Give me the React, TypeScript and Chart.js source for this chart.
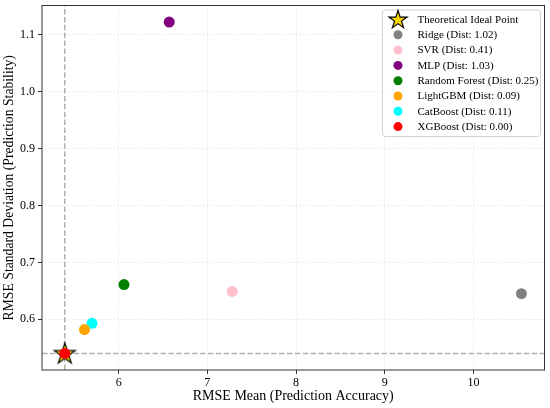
import React, { useEffect, useRef } from "react";
import { Chart, registerables } from "chart.js";

Chart.register(...registerables);

// ---- data ----
const models = ["Ridge", "SVR", "MLP", "Random Forest", "LightGBM", "CatBoost", "XGBoost"];
const rmseMean = [10.54, 7.28, 6.57, 6.06, 5.615, 5.70, 5.393];
const rmseStd = [0.645, 0.649, 1.122, 0.661, 0.582, 0.593, 0.540];
const distances = ["1.02", "0.41", "1.03", "0.25", "0.09", "0.11", "0.00"];
const modelColors = ["#808080", "#FFC0CB", "#800080", "#008000", "#FFA500", "#00FFFF", "#FF0000"];
const idealX = [5.393];
const idealY = [0.540];
const idealLabel = "Theoretical Ideal Point";
const xTicks = [6, 7, 8, 9, 10];
const yTicks = [0.6, 0.7, 0.8, 0.9, 1.0, 1.1];
const xRange = [5.136, 10.8];
const yRange = [0.511, 1.151];
const xTitle = "RMSE Mean (Prediction Accuracy)";
const yTitle = "RMSE Standard Deviation (Prediction Stability)";

const FONT = "'Liberation Serif', 'Times New Roman', serif";

function starPath(ctx: CanvasRenderingContext2D, cx: number, cy: number, R: number) {
  const r = R * 0.381966;
  ctx.beginPath();
  for (let i = 0; i < 10; i++) {
    const rad = i % 2 === 0 ? R : r;
    const a = -Math.PI / 2 + (i * Math.PI) / 5;
    const px = cx + rad * Math.cos(a);
    const py = cy + rad * Math.sin(a);
    if (i === 0) ctx.moveTo(px, py);
    else ctx.lineTo(px, py);
  }
  ctx.closePath();
}

function makeStar(R: number): HTMLCanvasElement {
  const size = Math.ceil(R * 2 + 4);
  const c = document.createElement("canvas");
  c.width = size;
  c.height = size;
  const ctx = c.getContext("2d")!;
  starPath(ctx, size / 2, size / 2 + R * 0.05, R);
  ctx.fillStyle = "#FFD700";
  ctx.fill();
  ctx.lineWidth = 1.2;
  ctx.strokeStyle = "#000";
  ctx.lineJoin = "miter";
  ctx.stroke();
  return c;
}

const framePlugin = {
  id: "frame",
  afterDatasetsDraw(chart: any) {
    const { ctx, chartArea: a } = chart;
    ctx.save();
    ctx.strokeStyle = "#333";
    ctx.lineWidth = 1;
    ctx.strokeRect(a.left, a.top, a.right - a.left, a.bottom - a.top);
    ctx.restore();
  },
};

const legendPlugin = {
  id: "customLegend",
  afterDraw(chart: any) {
    const { ctx } = chart;
    const items: { label: string; color: string; star?: boolean }[] = [
      { label: idealLabel, color: "#FFD700", star: true },
      ...models.map((m, i) => ({ label: `${m} (Dist: ${distances[i]})`, color: modelColors[i] })),
    ];
    const boxX = 382.5;
    const boxY = 10;
    const boxW = 158;
    const rowH = 15.3;
    const boxH = 126.5;
    ctx.save();
    ctx.beginPath();
    const rr = 3;
    ctx.moveTo(boxX + rr, boxY);
    ctx.arcTo(boxX + boxW, boxY, boxX + boxW, boxY + boxH, rr);
    ctx.arcTo(boxX + boxW, boxY + boxH, boxX, boxY + boxH, rr);
    ctx.arcTo(boxX, boxY + boxH, boxX, boxY, rr);
    ctx.arcTo(boxX, boxY, boxX + boxW, boxY, rr);
    ctx.closePath();
    ctx.fillStyle = "rgba(255,255,255,0.85)";
    ctx.fill();
    ctx.strokeStyle = "#d0d0d0";
    ctx.lineWidth = 1;
    ctx.stroke();
    ctx.font = `11px ${FONT}`;
    ctx.textBaseline = "middle";
    ctx.textAlign = "left";
    items.forEach((it, i) => {
      const cy = boxY + 9.5 + i * rowH;
      const mx = boxX + 15.5;
      if (it.star) {
        starPath(ctx, mx, cy + 0.5, 9.5);
        ctx.fillStyle = "#FFD700";
        ctx.fill();
        ctx.lineWidth = 1.2;
        ctx.strokeStyle = "#000";
        ctx.stroke();
      } else {
        ctx.beginPath();
        ctx.arc(mx, cy, 4.5, 0, Math.PI * 2);
        ctx.fillStyle = it.color;
        ctx.fill();
      }
      ctx.fillStyle = "#000";
      ctx.fillText(it.label, boxX + 35, cy + 0.5);
    });
    ctx.restore();
  },
};

export default function App() {
  const ref = useRef<HTMLCanvasElement>(null);
  useEffect(() => {
    const star = makeStar(11);
    const refLine = {
      borderColor: "#b0b0b0",
      borderWidth: 1.5,
      borderDash: [5.5, 2.4],
      pointRadius: 0,
      showLine: true,
      fill: false,
      order: 3,
    };
    const datasets: any[] = [
      {
        ...refLine,
        type: "line",
        label: "vline",
        data: [
          { x: idealX[0], y: yRange[0] },
          { x: idealX[0], y: yRange[1] },
        ],
      },
      {
        ...refLine,
        type: "line",
        label: "hline",
        data: [
          { x: xRange[0], y: idealY[0] },
          { x: xRange[1], y: idealY[0] },
        ],
      },
      {
        label: idealLabel,
        data: [{ x: idealX[0], y: idealY[0] }],
        pointStyle: star,
        order: 2,
      },
      ...models.map((m, i) => ({
        label: m,
        data: [{ x: rmseMean[i], y: rmseStd[i] }],
        backgroundColor: modelColors[i],
        borderWidth: 0,
        pointRadius: 5.5,
        order: 1,
      })),
    ];
    const chart = new Chart(ref.current!, {
      type: "scatter",
      data: { datasets },
      plugins: [framePlugin, legendPlugin],
      options: {
        animation: false,
        responsive: false,
        devicePixelRatio: 1,
        layout: { padding: { top: 5, right: 3, left: 0, bottom: 0 } },
        plugins: { legend: { display: false }, tooltip: { enabled: false } },
        scales: {
          x: {
            type: "linear",
            min: xRange[0],
            max: xRange[1],
            afterBuildTicks: (s: any) => {
              s.ticks = xTicks.map((v) => ({ value: v }));
            },
            afterFit: (s: any) => {
              s.height = 38;
              s.paddingLeft = 0;
              s.paddingRight = 0;
              s.paddingTop = 0;
              s.paddingBottom = 0;
            },
            ticks: {
              color: "#000",
              font: { family: FONT, size: 12 },
              padding: 2,
              callback: (v: any) => String(v),
            },
            grid: {
              color: "rgba(0,0,0,0.16)",
              lineWidth: 0.8,
              tickColor: "#333",
              tickLength: 4,
              tickWidth: 1,
            },
            border: { display: false, dash: [1, 2] },
            title: {
              display: true,
              text: xTitle,
              color: "#000",
              font: { family: FONT, size: 14 },
              padding: { top: 0, bottom: 3 },
            },
          },
          y: {
            type: "linear",
            min: yRange[0],
            max: yRange[1],
            afterBuildTicks: (s: any) => {
              s.ticks = yTicks.map((v) => ({ value: v }));
            },
            afterFit: (s: any) => {
              s.width = 42;
              s.paddingLeft = 0;
              s.paddingRight = 0;
              s.paddingTop = 0;
              s.paddingBottom = 0;
            },
            ticks: {
              color: "#000",
              font: { family: FONT, size: 12 },
              padding: 3,
              callback: (v: any) => Number(v).toFixed(1),
            },
            grid: {
              color: "rgba(0,0,0,0.16)",
              lineWidth: 0.8,
              tickColor: "#333",
              tickLength: 4,
              tickWidth: 1,
            },
            border: { display: false, dash: [1, 2] },
            title: {
              display: true,
              text: yTitle,
              color: "#000",
              font: { family: FONT, size: 13.7 },
              padding: { top: 1, bottom: 0 },
            },
          },
        },
      },
    } as any);
    return () => chart.destroy();
  }, []);
  return (
    <div style={{ position: "fixed", left: 0, top: 0, width: 550, height: 408, background: "#fff" }}>
      <canvas ref={ref} width={550} height={408} style={{ width: 550, height: 408, display: "block" }} />
    </div>
  );
}
